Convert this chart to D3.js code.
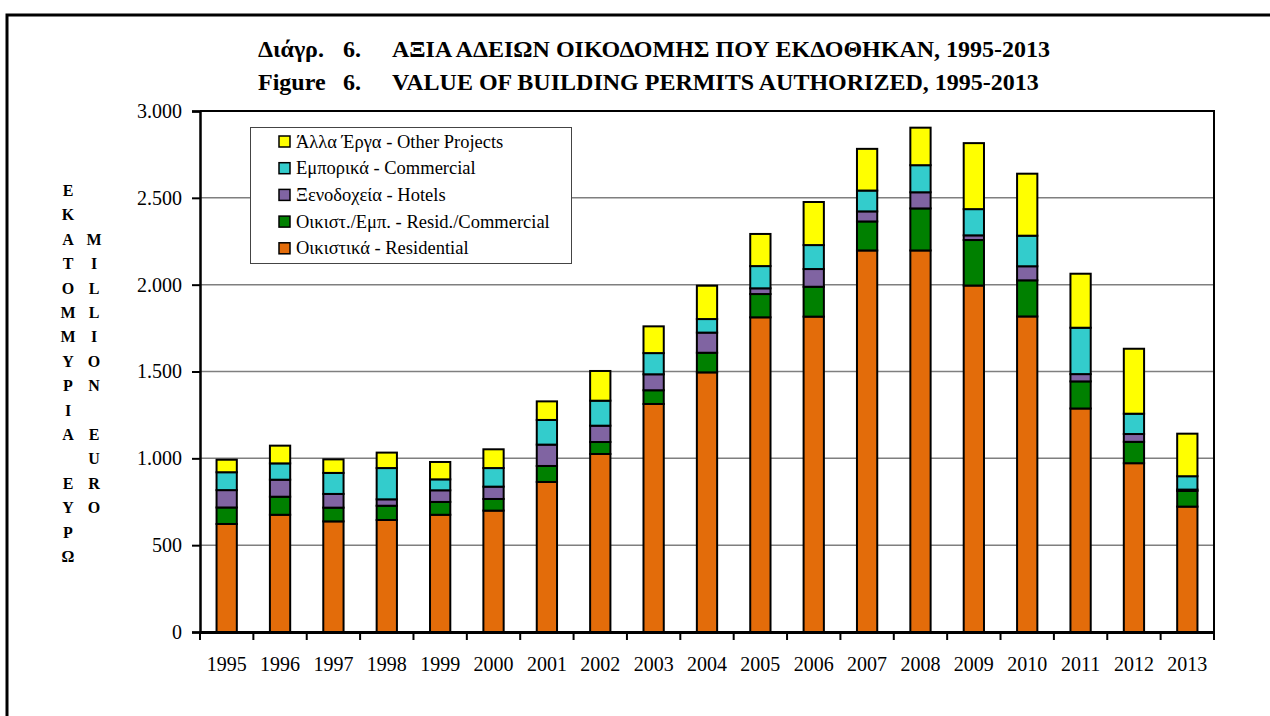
<!DOCTYPE html>
<html>
<head>
<meta charset="utf-8">
<script src="https://cdn.jsdelivr.net/npm/d3@7"></script>
<style>
  body { margin: 0; background: #fff; }
  text { font-family: "Liberation Serif", "Times New Roman", serif; }
</style>
</head>
<body>
<script>
// years on the x axis
let years = ["1995","1996","1997","1998","1999","2000","2001","2002","2003","2004",
             "2005","2006","2007","2008","2009","2010","2011","2012","2013"];

// series values, million euro
let residential = [622,675,637,645,675,699,864,1025,1313,1495,1812,1816,2197,2197,1995,1817,1287,972,722];
let residComm   = [95,104,79,82,74,67,92,69,79,113,134,172,167,242,262,208,156,123,90];
let hotels      = [100,98,79,37,67,71,123,94,92,116,33,102,58,93,27,81,42,45,8];
let commercial  = [103,94,121,180,63,107,142,144,122,78,128,138,120,156,151,176,267,117,77];
let other       = [72,102,78,89,100,108,107,171,154,192,185,248,240,216,380,357,311,374,245];

let seriesKeys  = ["residential","residComm","hotels","commercial","other"];
let seriesNames = ["Οικιστικά - Residential","Οικιστ./Εμπ. - Resid./Commercial","Ξενοδοχεία - Hotels",
                   "Εμπορικά - Commercial","Άλλα Έργα - Other Projects"];
let seriesColors = ["#E36C0A","#008000","#8064A2","#33CCCC","#FFFF00"];

let yTicks = [0,500,1000,1500,2000,2500,3000];

// y axis title, one letter per row (blank = gap)
let titleGr = ["Ε","Κ","Α","Τ","Ο","Μ","Μ","Υ","Ρ","Ι","Α","","Ε","Υ","Ρ","Ω"];
let titleEn = ["","","M","I","L","L","I","O","N","","E","U","R","O"];

// table for d3.stack
let table = years.map((y, i) => ({
    year: y,
    residential: residential[i],
    residComm: residComm[i],
    hotels: hotels[i],
    commercial: commercial[i],
    other: other[i]
}));

let width = 1270, height = 716;
let plot = {left: 200, right: 1214, top: 111, bottom: 632};

let svg = d3.select("body").append("svg")
    .attr("width", width).attr("height", height);

// outer frame (runs off the right and bottom of the page)
svg.append("rect")
    .attr("x", 7).attr("y", 15)
    .attr("width", 1400).attr("height", 900)
    .attr("fill", "none").attr("stroke", "#000").attr("stroke-width", 3);

// title
let titleG = svg.append("g").attr("font-weight", "bold").attr("font-size", 24);
[["Διάγρ.", "ΑΞΙΑ ΑΔΕΙΩΝ ΟΙΚΟΔΟΜΗΣ ΠΟΥ ΕΚΔΟΘΗΚΑΝ, 1995-2013", 57],
 ["Figure", "VALUE OF BUILDING PERMITS AUTHORIZED, 1995-2013", 90]].forEach(t => {
    titleG.append("text").attr("x", 258).attr("y", t[2]).text(t[0]);
    titleG.append("text").attr("x", 343).attr("y", t[2]).text("6.");
    titleG.append("text").attr("x", 392).attr("y", t[2]).text(t[1]);
});

// scales
let x = d3.scaleBand()
    .domain(years)
    .range([plot.left, plot.right])
    .paddingInner(0.62).paddingOuter(0.31);

let xOuter = d3.scaleBand().domain(years).range([plot.left, plot.right]);

let y = d3.scaleLinear()
    .domain([0, 3000])
    .range([plot.bottom, plot.top]);

let grLocale = d3.formatLocale({decimal: ",", thousands: ".", grouping: [3], currency: ["", "€"]});

// gridlines
svg.append("g").selectAll("line")
    .data(yTicks.filter(d => d > 0 && d < 3000))
    .join("line")
    .attr("x1", plot.left).attr("x2", plot.right)
    .attr("y1", d => y(d)).attr("y2", d => y(d))
    .attr("stroke", "#7f7f7f").attr("stroke-width", 1.5);

// plot box top and right
svg.append("path")
    .attr("d", `M${plot.left},${y(3000)}H${plot.right}V${plot.bottom}`)
    .attr("fill", "none").attr("stroke", "#000").attr("stroke-width", 2);

// stacked bars
let stack = d3.stack().keys(seriesKeys);
let layers = stack(table);

svg.append("g").selectAll("g")
    .data(layers)
    .join("g")
    .attr("fill", (d, i) => seriesColors[i])
    .selectAll("rect")
    .data(d => d)
    .join("rect")
    .attr("x", d => x(d.data.year))
    .attr("width", x.bandwidth())
    .attr("y", d => y(d[1]))
    .attr("height", d => y(d[0]) - y(d[1]))
    .attr("stroke", "#000").attr("stroke-width", 2);

// y axis
let yAxis = d3.axisLeft(y)
    .tickValues(yTicks)
    .tickFormat(grLocale.format(","))
    .tickSize(8).tickPadding(10);

let yG = svg.append("g")
    .attr("transform", `translate(${plot.left},0)`)
    .call(yAxis);
yG.select(".domain").attr("stroke-width", 2.5);
yG.selectAll(".tick line").attr("stroke-width", 2);
yG.selectAll("text").attr("font-size", 20).attr("fill", "#000")
    .attr("font-family", "Liberation Serif, serif");

// x axis: labels centred on bands, ticks on band edges
let xAxis = d3.axisBottom(xOuter).tickSize(0).tickPadding(25);
let xG = svg.append("g")
    .attr("transform", `translate(0,${plot.bottom})`)
    .call(xAxis);
xG.select(".domain").attr("stroke-width", 3);
xG.selectAll("text").attr("font-size", 20).attr("fill", "#000")
    .attr("font-family", "Liberation Serif, serif");

xG.selectAll(".edge")
    .data(years.map(d => xOuter(d)).concat([plot.right]))
    .join("line")
    .attr("class", "edge")
    .attr("x1", d => d).attr("x2", d => d)
    .attr("y1", 0).attr("y2", 8)
    .attr("stroke", "#000").attr("stroke-width", 2);

// y axis title, two columns of letters
let ytG = svg.append("g").attr("font-weight", "bold").attr("font-size", 16)
    .attr("text-anchor", "middle");
ytG.selectAll(".gr").data(titleGr).join("text")
    .attr("class", "gr")
    .attr("x", 68).attr("y", (d, i) => 196 + i * 24.4)
    .text(d => d);
ytG.selectAll(".en").data(titleEn).join("text")
    .attr("class", "en")
    .attr("x", 94).attr("y", (d, i) => 196 + i * 24.4)
    .text(d => d);

// legend
let legend = svg.append("g");
legend.append("rect")
    .attr("x", 250.5).attr("y", 127.5)
    .attr("width", 321).attr("height", 136)
    .attr("fill", "#fff").attr("stroke", "#444").attr("stroke-width", 1);

let legendOrder = [4, 3, 2, 1, 0];
let li = legend.selectAll(".item")
    .data(legendOrder)
    .join("g")
    .attr("class", "item")
    .attr("transform", (d, i) => `translate(279,${141.5 + i * 26.7})`);
li.append("rect")
    .attr("x", 0).attr("y", -5.5)
    .attr("width", 11).attr("height", 11)
    .attr("fill", d => seriesColors[d])
    .attr("stroke", "#000").attr("stroke-width", 1.5);
li.append("text")
    .attr("x", 17).attr("y", 6)
    .attr("font-size", 18.5)
    .text(d => seriesNames[d]);
</script>
</body>
</html>
